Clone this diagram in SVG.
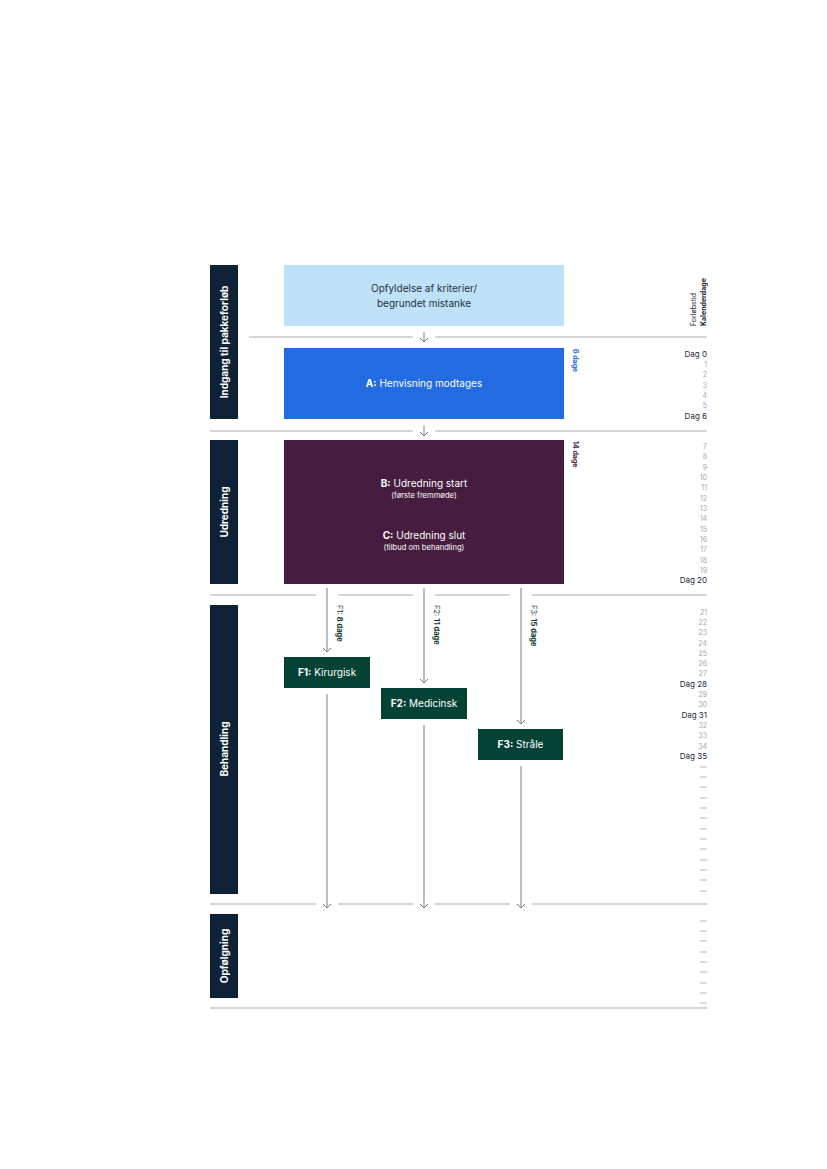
<svg xmlns="http://www.w3.org/2000/svg" width="827" height="1169" viewBox="0 0 827 1169">
<style>
text{font-family:"Inter","Liberation Sans",sans-serif}
.side{fill:#0d2236}
.sidet{fill:#fff;font-size:10px;font-weight:700}
.rule{stroke:#a8aeb5;stroke-width:1;fill:none}
.conn{stroke:#8b949e;stroke-width:1.2;fill:none}
.fbox{fill:#054236}
.ft{fill:#fff;font-size:10px;text-anchor:middle}
.num{fill:#a3a8ad;font-size:7px;text-anchor:end}
.dag{fill:#1d2a36;font-size:8px;text-anchor:end}
.dash{stroke:#b4b9be;stroke-width:1}
.lab{fill:#0f3a30;font-size:7.5px}
</style>
<defs>
<marker id="ah" viewBox="0 0 10 10" refX="9" refY="5" markerWidth="9" markerHeight="9" markerUnits="userSpaceOnUse" orient="auto">
<path d="M4.5 0.5 L9 5 L4.5 9.5" fill="none" stroke="#6f7882" stroke-width="1.1"/>
</marker>
</defs>

<g id="rules">
<path class="rule" d="M249 337H413M435 337H707"/>
<path class="rule" d="M210 431H413M435 431H707"/>
<path class="rule" d="M210 595H316M338 595H413M435 595H510M532 595H707"/>
<path class="rule" d="M210 904H316M338 904H413M435 904H510M532 904H707"/>
<path class="rule" d="M210 1008H707" stroke="#8b939c"/>
</g>

<g id="lane-indgang"><rect class="side" x="210" y="265" width="28" height="154"/><text class="sidet" transform="translate(228 342) rotate(-90)" text-anchor="middle">Indgang til pakkeforløb</text></g>
<g id="lane-udredning"><rect class="side" x="210" y="440" width="28" height="144"/><text class="sidet" transform="translate(228 512) rotate(-90)" text-anchor="middle">Udredning</text></g>
<g id="lane-behandling"><rect class="side" x="210" y="605" width="28" height="289"/><text class="sidet" transform="translate(228 749) rotate(-90)" text-anchor="middle">Behandling</text></g>
<g id="lane-opfolgning"><rect class="side" x="210" y="914" width="28" height="84"/><text class="sidet" transform="translate(228 956) rotate(-90)" text-anchor="middle">Opfølgning</text></g>

<g id="node-opfyldelse"><rect x="284" y="265" width="280" height="61" fill="#bfe2fb"/>
<text x="424" y="292" font-size="10" fill="#1f2d3a" text-anchor="middle">Opfyldelse af kriterier/</text>
<text x="424" y="307" font-size="10" fill="#1f2d3a" text-anchor="middle">begrundet mistanke</text></g>

<g id="node-A"><rect x="284" y="348" width="280" height="71" fill="#236be0"/>
<text x="424" y="387" font-size="10" fill="#fff" text-anchor="middle"><tspan font-weight="700">A:</tspan> Henvisning modtages</text>
<text transform="translate(573 349) rotate(90)" font-size="7" font-weight="700" fill="#236be0">6 dage</text></g>

<g id="node-BC"><rect x="284" y="440" width="280" height="144" fill="#461d3e"/>
<text x="424" y="487" font-size="10" fill="#fff" text-anchor="middle"><tspan font-weight="700">B:</tspan> Udredning start</text>
<text x="424" y="498" font-size="7.6" fill="#fff" text-anchor="middle">(første fremmøde)</text>
<text x="424" y="539" font-size="10" fill="#fff" text-anchor="middle"><tspan font-weight="700">C:</tspan> Udredning slut</text>
<text x="424" y="550" font-size="7.6" fill="#fff" text-anchor="middle">(tilbud om behandling)</text>
<text transform="translate(573 441) rotate(90)" font-size="7" font-weight="700" fill="#461d3e">14 dage</text></g>

<g id="node-F1"><rect class="fbox" x="284" y="657" width="86" height="31"/><text class="ft" x="327" y="676"><tspan font-weight="700">F1:</tspan> Kirurgisk</text></g>
<g id="node-F2"><rect class="fbox" x="381" y="688" width="86" height="31"/><text class="ft" x="424" y="707"><tspan font-weight="700">F2:</tspan> Medicinsk</text></g>
<g id="node-F3"><rect class="fbox" x="478" y="729" width="85" height="31"/><text class="ft" x="520.5" y="748"><tspan font-weight="700">F3:</tspan> Stråle</text></g>

<g id="connectors">
<path class="conn" d="M424 332V342" marker-end="url(#ah)"/>
<path class="conn" d="M424 426V436" marker-end="url(#ah)"/>
<path class="conn" d="M327 588V652" marker-end="url(#ah)"/>
<path class="conn" d="M424 588V683" marker-end="url(#ah)"/>
<path class="conn" d="M521 588V724" marker-end="url(#ah)"/>
<path class="conn" d="M327 694V908" marker-end="url(#ah)"/>
<path class="conn" d="M424 725V908" marker-end="url(#ah)"/>
<path class="conn" d="M521 766V908" marker-end="url(#ah)"/>
<text class="lab" transform="translate(337 605) rotate(90)">F1: <tspan font-weight="700">8 dage</tspan></text>
<text class="lab" transform="translate(434 605) rotate(90)">F2: <tspan font-weight="700">11 dage</tspan></text>
<text class="lab" transform="translate(531 605) rotate(90)">F3: <tspan font-weight="700">15 dage</tspan></text>
</g>

<g id="timeline">
<text transform="translate(696 326) rotate(-90)" font-size="7" fill="#1d2a36">Forløbstid</text>
<text transform="translate(706 326) rotate(-90)" font-size="7" font-weight="700" fill="#1d2a36">Kalenderdage</text>
<text class="dag" x="707" y="357">Dag 0</text>
<text class="num" x="707" y="367">1</text>
<text class="num" x="707" y="377">2</text>
<text class="num" x="707" y="388">3</text>
<text class="num" x="707" y="398">4</text>
<text class="num" x="707" y="408">5</text>
<text class="dag" x="707" y="419">Dag 6</text>
<text class="num" x="707" y="449">7</text>
<text class="num" x="707" y="459">8</text>
<text class="num" x="707" y="470">9</text>
<text class="num" x="707" y="480">10</text>
<text class="num" x="707" y="490">11</text>
<text class="num" x="707" y="501">12</text>
<text class="num" x="707" y="511">13</text>
<text class="num" x="707" y="521">14</text>
<text class="num" x="707" y="532">15</text>
<text class="num" x="707" y="542">16</text>
<text class="num" x="707" y="552">17</text>
<text class="num" x="707" y="563">18</text>
<text class="num" x="707" y="573">19</text>
<text class="dag" x="707" y="583">Dag 20</text>
<text class="num" x="707" y="615">21</text>
<text class="num" x="707" y="625">22</text>
<text class="num" x="707" y="635">23</text>
<text class="num" x="707" y="646">24</text>
<text class="num" x="707" y="656">25</text>
<text class="num" x="707" y="666">26</text>
<text class="num" x="707" y="676">27</text>
<text class="dag" x="707" y="687">Dag 28</text>
<text class="num" x="707" y="697">29</text>
<text class="num" x="707" y="707">30</text>
<text class="dag" x="707" y="718">Dag 31</text>
<text class="num" x="707" y="728">32</text>
<text class="num" x="707" y="738">33</text>
<text class="num" x="707" y="749">34</text>
<text class="dag" x="707" y="759">Dag 35</text>
<path class="dash" d="M700 767H707M700 777H707M700 787H707M700 798H707M700 808H707M700 818H707M700 829H707M700 839H707M700 849H707M700 860H707M700 870H707M700 880H707M700 891H707"/>
<path class="dash" d="M700 921H707M700 931H707M700 941H707M700 952H707M700 962H707M700 972H707M700 983H707M700 993H707M700 1003H707"/>
</g>
</svg>
